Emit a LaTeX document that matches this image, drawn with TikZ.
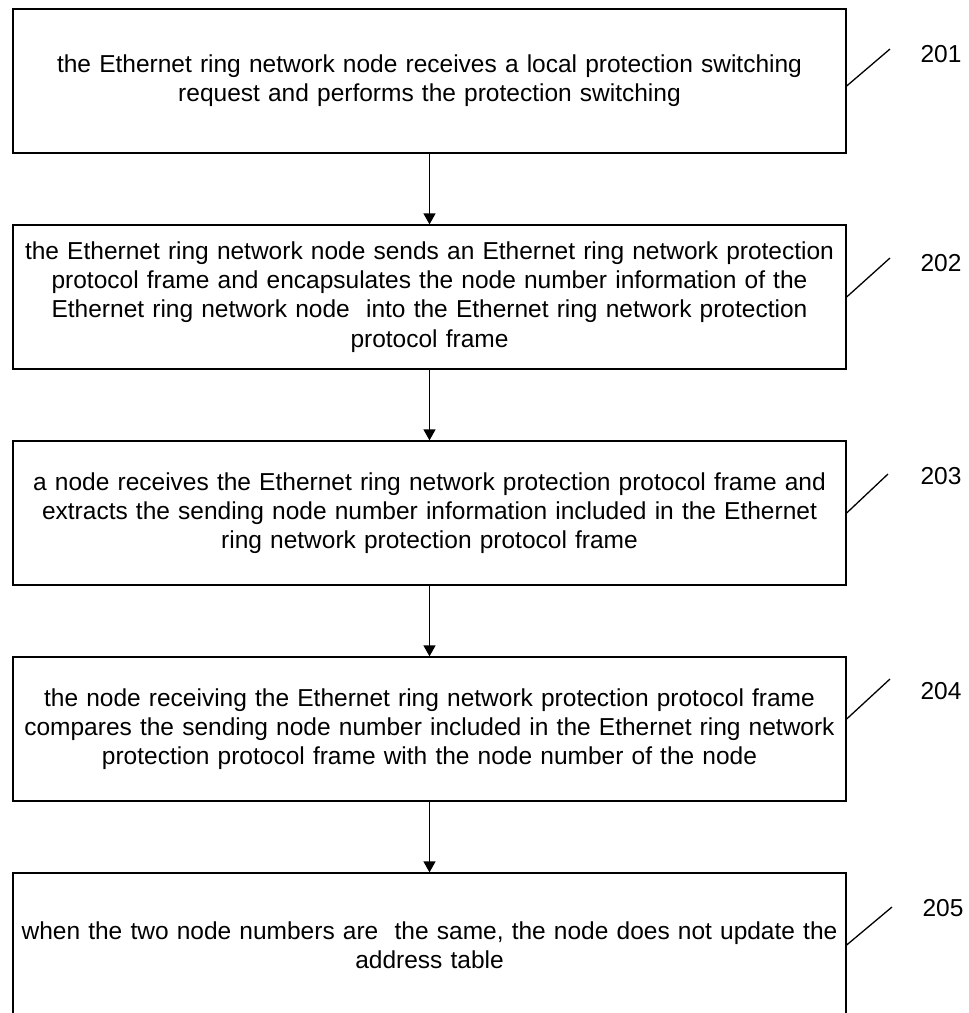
\documentclass[tikz,border=0pt]{standalone}
\usepackage{fontspec}
\setmainfont{Liberation Sans}
\usepackage{tikz}
\usetikzlibrary{arrows.meta}
\begin{document}
\begin{tikzpicture}[x=1pt,y=-1pt]
\tikzstyle{stepbox} = [draw, line width=1.3pt, minimum width=833pt, minimum height=144pt, text width=826pt, align=center, inner sep=0pt, font=\fontsize{24.5}{29.3}\selectfont];
\tikzstyle{flow} = [line width=1.4pt, -{Triangle[width=12pt,length=11pt]}];
\tikzstyle{leader} = [line width=1.3pt];
\tikzstyle{refnum} = [font=\fontsize{24.5}{30}\selectfont, inner sep=0pt];
\useasboundingbox (0,0) rectangle (969,1013);
\node [stepbox] (s201) at (429.5,81) {the Ethernet ring network node receives a local protection switching\\request and performs the protection switching};
\node [stepbox] (s202) at (429.5,297) {the Ethernet ring network node sends an Ethernet ring network protection\\protocol frame and encapsulates the node number information of the\\Ethernet ring network node\ \ into the Ethernet ring network protection\\protocol frame};
\node [stepbox] (s203) at (429.5,513) {a node receives the Ethernet ring network protection protocol frame and\\extracts the sending node number information included in the Ethernet\\ring network protection protocol frame};
\node [stepbox] (s204) at (429.5,729) {the node receiving the Ethernet ring network protection protocol frame\\compares the sending node number included in the Ethernet ring network\\protection protocol frame with the node number of the node};
\node [stepbox] (s205) at (429.5,945) {when the two node numbers are\ \ the same, the node does not update the\\address table};
\draw [flow] (s201) -- (s202);
\draw [flow] (s202) -- (s203);
\draw [flow] (s203) -- (s204);
\draw [flow] (s204) -- (s205);
\coordinate (t201) at (890,49);
\coordinate (t202) at (890,258);
\coordinate (t203) at (888,474);
\coordinate (t204) at (890,679);
\coordinate (t205) at (892,907);
\draw [leader] ([yshift=-5pt]s201.east) -- (t201);
\draw [leader] (s202.east) -- (t202);
\draw [leader] (s203.east) -- (t203);
\draw [leader] ([yshift=10pt]s204.east) -- (t204);
\draw [leader] (s205.east) -- (t205);
\node [refnum] (n201) at (941,54) {201};
\node [refnum] (n202) at (941,263) {202};
\node [refnum] (n203) at (941,476) {203};
\node [refnum] (n204) at (941,691) {204};
\node [refnum] (n205) at (943,908) {205};
\end{tikzpicture}
\end{document}
